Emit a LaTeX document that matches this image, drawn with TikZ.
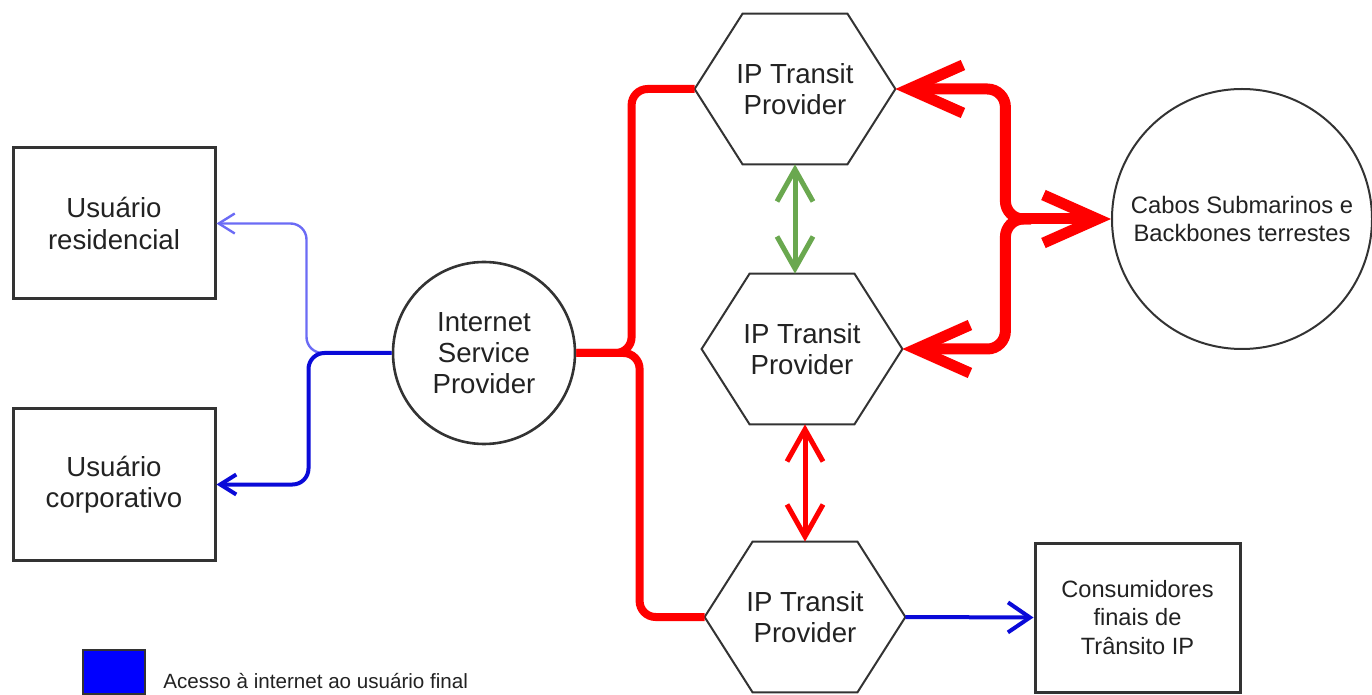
\documentclass[tikz,border=0pt]{standalone}
\usepackage{fontspec}
\setmainfont{Liberation Sans}
\usetikzlibrary{arrows.meta,calc}
\definecolor{myred}{HTML}{FF0000}
\definecolor{bdark}{HTML}{0A0AD8}
\definecolor{blight}{HTML}{6B6BF5}
\definecolor{mygreen}{HTML}{6AA84F}
\definecolor{edgec}{HTML}{333333}
\definecolor{txtc}{HTML}{222222}
\begin{document}
\begin{tikzpicture}[x=0.5pt,y=-0.5pt,
  bigfont/.style={font=\fontsize{13.8}{15.6}\selectfont},
  smallfont/.style={font=\fontsize{11.8}{14.2}\selectfont},
  userbox/.style={draw=edgec, line width=1.5pt, minimum width=101pt, minimum height=75.5pt, align=center, text=txtc, inner sep=0pt, bigfont},
  hexn/.style={minimum width=100pt, minimum height=75pt, align=center, text=txtc, inner sep=0pt, bigfont},
  hexline/.style={draw=edgec, line width=1pt, line join=miter},
  redthin/.style={draw=myred, line width=4pt, rounded corners=8pt},
  redbig/.style={draw=myred, line width=5.5pt, rounded corners=9pt},
  bigbarb/.style={-{Straight Barb[length=27pt,width=24pt]}},
  midbarb/.style={{Straight Barb[length=16pt,width=18pt]}-{Straight Barb[length=16pt,width=18pt]}},
  smallbarb/.style={-{Straight Barb[length=8pt,width=10pt]}},
  consbarb/.style={-{Straight Barb[length=11pt,width=15pt]}}
]
\useasboundingbox (0,0) rectangle (1372,695);

% nodes
\node[userbox] (res) at (114,223.5) {Usuário\\residencial};
\node[userbox] (corp) at (114,484.5) {Usuário\\corporativo};
\node[circle, draw=edgec, line width=1.3pt, minimum size=91pt, inner sep=0pt, align=center, text=txtc, bigfont] (isp) at (484,353) {Internet\\Service\\Provider};
\node[hexn] (top) at (795,89) {IP Transit\\Provider};
\node[hexn] (mid) at (802,349) {IP Transit\\Provider};
\node[hexn] (bot) at (805,617) {IP Transit\\Provider};
\foreach \h in {top,mid,bot}{
  \draw[hexline] (\h.west) -- ($(\h.north west)+(48,0)$) -- ($(\h.north east)+(-48,0)$) -- (\h.east) -- ($(\h.south east)+(-48,0)$) -- ($(\h.south west)+(48,0)$) -- cycle;
}
\node[circle, draw=edgec, line width=1pt, minimum size=130pt, inner sep=0pt, align=center, text=txtc, font=\fontsize{11.9}{14}\selectfont] (cab) at (1242,219) {Cabos Submarinos e\\Backbones terrestes};
\node[draw=edgec, line width=1.5pt, minimum width=102.5pt, minimum height=74.5pt, inner sep=0pt, align=center, text=txtc, smallfont] (cons) at (1137.5,617.5) {Consumidores\\finais de\\Trânsito IP};

% legend
\node[draw=edgec, fill=blue, line width=1pt, minimum width=31pt, minimum height=22pt, inner sep=0pt] (leg) at (114,672) {};
\node[anchor=west, text=txtc, inner sep=0pt, font=\fontsize{10.3}{12}\selectfont] (legt) at (163,681) {Acesso à internet ao usuário final};

% blue connectors (left)
\draw[draw=blight, line width=1.2pt, rounded corners=8pt, smallbarb] (isp.west) -| ($(res.east)+(90,0)$) -- (res.east);
\draw[draw=bdark, line width=2pt, rounded corners=8pt, smallbarb] (isp.west) -| ($(corp.east)+(92,0)$) -- (corp.east);

% red connectors (left)
\draw[redthin] (isp.east) -| ($(top.west)+(-63,0)$) -- (top.west);
\draw[redthin] (isp.east) -| ($(bot.west)+(-65,0)$) -- (bot.west);

% red connectors (right)
\draw[redbig, bigbarb] ($(cab.west)+(-100,0)$) -- (cab.west);
\draw[redbig, bigbarb] ($(cab.west)+(-80,0)$) -| ($(top.east)+(110,0)$) -- (top.east);
\draw[redbig, bigbarb] ($(cab.west)+(-80,0)$) -| ($(mid.east)+(103,0)$) -- (mid.east);

% vertical double arrows
\draw[draw=mygreen, line width=2.5pt, midbarb] (top.south) -- (top.south |- mid.north);
\draw[draw=myred, line width=2.5pt, midbarb] (bot.north |- mid.south) -- (bot.north);

% blue to consumers
\draw[draw=bdark, line width=2pt, consbarb] (bot.east) -- (cons.west);
\end{tikzpicture}
\end{document}
